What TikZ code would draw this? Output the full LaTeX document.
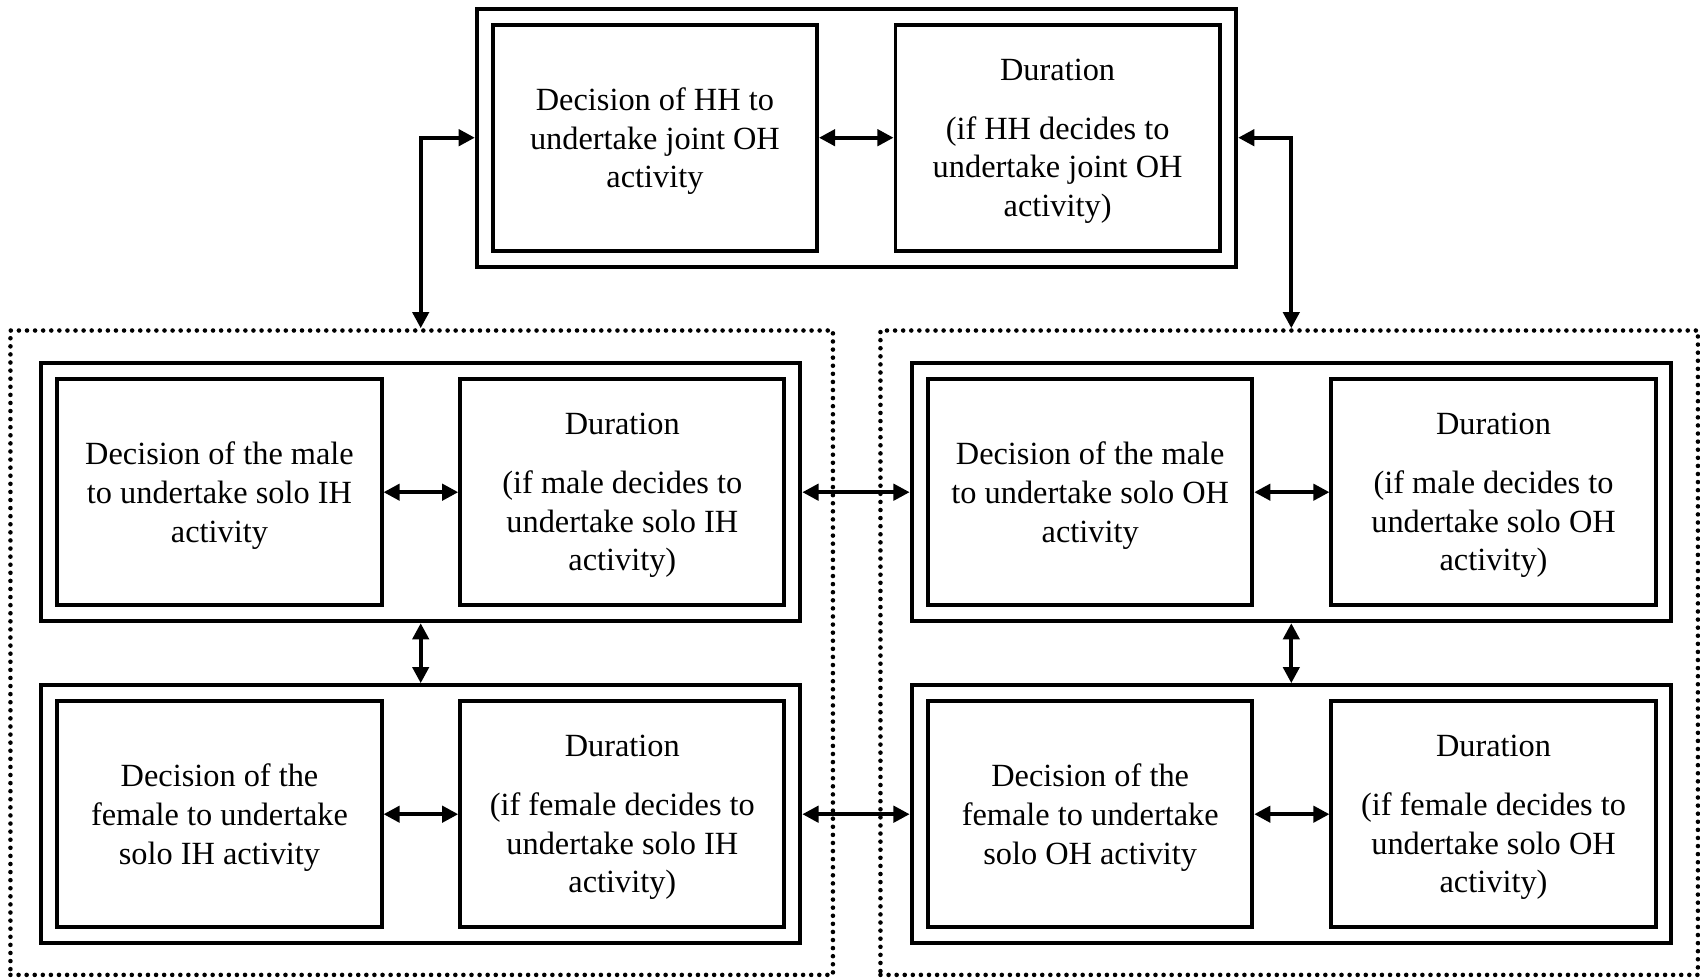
\documentclass[tikz,border=0pt]{standalone}
\usepackage{fontspec}
\setmainfont{Liberation Serif}
\usetikzlibrary{arrows.meta,positioning}

\begin{document}
\begin{tikzpicture}[x=0.01cm,y=-0.01cm,
  inbox/.style={draw,line width=1.1pt,minimum width=3.24cm,minimum height=2.26cm,align=center,inner sep=0pt,text depth=-2.2pt,font=\fontsize{9.2}{11}\selectfont},
  outbox/.style={draw,line width=1.1pt,minimum width=7.59cm,minimum height=2.58cm,inner sep=0pt},
  grpbox/.style={draw,line width=1.3pt,line cap=round,dash pattern=on 0pt off 2.3pt,minimum height=6.44cm,inner sep=0pt},
  link/.style={line width=1.1pt,{Triangle[length=4.6pt,width=4.6pt]}-{Triangle[length=4.6pt,width=4.6pt]}}]
\useasboundingbox (0,0) rectangle (1700,979);

% dotted groups: in-home (left) and out-of-home (right)
\node[grpbox,minimum width=8.22cm] (gih) at (421.7,652.7) {};
\node[grpbox,minimum width=8.17cm] (goh) at (1289.2,652.7) {};

% joint household activity
\node[outbox] (hh) at (856.5,137.7) {};
\node[inbox] (hhdec) at (654.9,137.7) {Decision of HH to\\undertake joint OH\\activity};
\node[inbox] (hhdur) at (1057.6,137.7) {Duration\\[5.7pt](if HH decides to\\undertake joint OH\\activity)};

% solo in-home
\node[outbox] (mih) at (420.7,492.2) {};
\node[inbox] (mihdec) at (219.5,492.2) {Decision of the male\\to undertake solo IH\\activity};
\node[inbox] (mihdur) at (622.3,492.2) {Duration\\[5.7pt](if male decides to\\undertake solo IH\\activity)};
\node[outbox] (fih) at (420.7,814.2) {};
\node[inbox] (fihdec) at (219.5,814.2) {Decision of the\\female to undertake\\solo IH activity};
\node[inbox] (fihdur) at (622.3,814.2) {Duration\\[5.7pt](if female decides to\\undertake solo IH\\activity)};

% solo out-of-home
\node[outbox] (moh) at (1291.3,492.2) {};
\node[inbox] (mohdec) at (1090.2,492.2) {Decision of the male\\to undertake solo OH\\activity};
\node[inbox] (mohdur) at (1493.5,492.2) {Duration\\[5.7pt](if male decides to\\undertake solo OH\\activity)};
\node[outbox] (foh) at (1291.3,814.2) {};
\node[inbox] (fohdec) at (1090.2,814.2) {Decision of the\\female to undertake\\solo OH activity};
\node[inbox] (fohdur) at (1493.5,814.2) {Duration\\[5.7pt](if female decides to\\undertake solo OH\\activity)};

% links
\draw[link] (hhdec) -- (hhdur);
\draw[link] (mihdec) -- (mihdur);
\draw[link] (fihdec) -- (fihdur);
\draw[link] (mohdec) -- (mohdur);
\draw[link] (fohdec) -- (fohdur);
\draw[link] (mih) -- (fih);
\draw[link] (moh) -- (foh);
\draw[link] (mih) -- (moh);
\draw[link] (fih) -- (foh);
\draw[link] (hh.west) -| (mih.center |- gih.north);
\draw[link] (hh.east) -| (moh.center |- goh.north);
\end{tikzpicture}
\end{document}
